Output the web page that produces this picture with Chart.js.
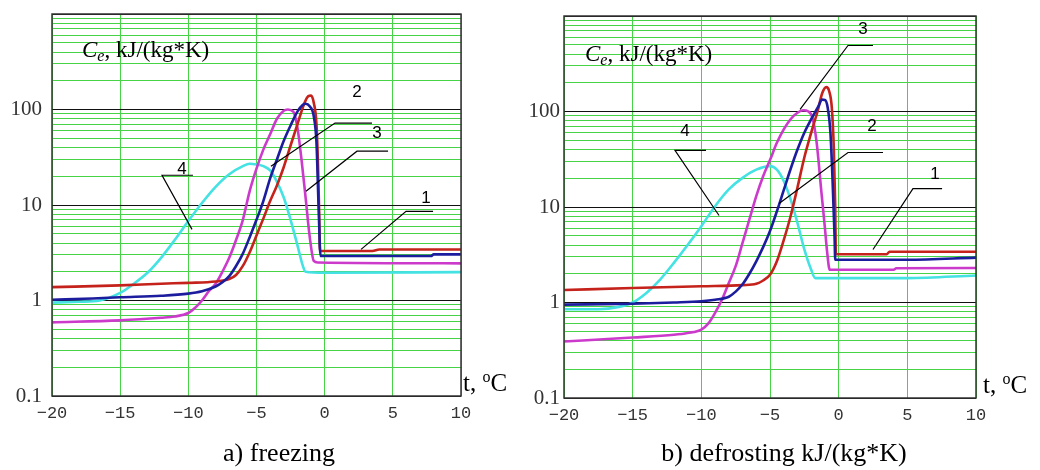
<!DOCTYPE html>
<html>
<head>
<meta charset="utf-8">
<script src="https://cdn.jsdelivr.net/npm/chart.js@4/dist/chart.umd.min.js"></script>
<style>
  body { margin: 0; background: #fff; width: 1040px; height: 470px; overflow: hidden; position: relative; }
  canvas { position: absolute; top: 0; }
  #freeze { left: 0; }
  #defrost { left: 520px; }
</style>
</head>
<body>
<canvas id="freeze" width="520" height="470"></canvas>
<canvas id="defrost" width="520" height="470"></canvas>
<script>
// temperature ticks (°C) and labelled values of Ce
const tempTicks = [-20, -15, -10, -5, 0, 5, 10];
const ceLabels = [0.1, 1, 10, 100];
const curveColors = { '1': '#c4221a', '2': '#1c1c9e', '3': '#cc3acc', '4': '#44e2e2' };

// a) freezing: [t, Ce]
const freeze1 = [[-20,1.38],[-15,1.44],[-12,1.5],[-10,1.53],[-8,1.58],[-7,1.68],[-6.5,1.85],[-6,2.3],[-5.5,3.2],[-5,4.8],[-4.5,7.2],[-4,11],[-3.5,16],[-3,25],[-2.5,42],[-2,70],[-1.5,115],[-1.2,138],[-1.0,140],[-0.8,118],[-0.6,70],[-0.5,30],[-0.4,8],[-0.35,3.3],[0,3.3],[3.5,3.3],[4,3.42],[10,3.42]];
const freeze2 = [[-20,1.02],[-17,1.05],[-15,1.08],[-12,1.12],[-10,1.18],[-9,1.25],[-8,1.4],[-7.5,1.55],[-7,1.8],[-6.5,2.3],[-6,3.1],[-5.5,4.6],[-5,7],[-4.5,11],[-4,19],[-3.5,30],[-3,47],[-2.5,68],[-2,95],[-1.6,112],[-1.4,115],[-1.1,108],[-0.8,85],[-0.6,45],[-0.45,10],[-0.3,2.92],[0,2.92],[7.8,2.92],[8,3.04],[10,3.04]];
const freeze3 = [[-20,0.59],[-15,0.62],[-12,0.66],[-11,0.68],[-10,0.74],[-9.5,0.84],[-9,1.0],[-8.5,1.25],[-8,1.5],[-7.5,2.0],[-7,2.8],[-6.5,4.3],[-6,7],[-5.5,14],[-5,24],[-4.5,38],[-4,55],[-3.5,80],[-3,97],[-2.7,100],[-2.3,95],[-2,65],[-1.7,30],[-1.4,12],[-1.1,4.7],[-0.8,2.6],[-0.5,2.5],[10,2.45]];
const freeze4 = [[-20,0.95],[-18,0.97],[-16.5,1.0],[-15,1.2],[-14,1.5],[-13,1.95],[-12,2.8],[-11,4.3],[-10,6.8],[-9,10.5],[-8,15.5],[-7,21],[-6,25.5],[-5.5,27],[-5,26.5],[-4.5,25.5],[-4,23],[-3.5,17.5],[-3,12],[-2.5,7],[-2,3.8],[-1.6,2.3],[-1.4,2.0],[0,1.95],[10,1.98]];

// b) defrosting: [t, Ce]
const defrost1 = [[-20,1.35],[-15,1.42],[-10,1.48],[-7,1.52],[-6,1.57],[-5.5,1.7],[-5,1.95],[-4.5,2.7],[-4,4.5],[-3.5,8],[-3,16],[-2.5,33],[-2,60],[-1.5,105],[-1.2,155],[-0.9,180],[-0.7,165],[-0.5,110],[-0.35,40],[-0.25,10],[-0.2,3.2],[3.5,3.2],[3.7,3.4],[10,3.4]];
const defrost2 = [[-20,0.95],[-15,0.97],[-12,1.0],[-10,1.03],[-9,1.07],[-8,1.15],[-7.5,1.3],[-7,1.55],[-6.5,2.0],[-6,2.7],[-5.5,3.8],[-5,5.6],[-4.5,9],[-4,15],[-3.5,25],[-3,40],[-2.5,60],[-2,83],[-1.5,112],[-1.2,133],[-1.0,132],[-0.8,110],[-0.6,60],[-0.45,20],[-0.3,5],[-0.25,2.8],[5,2.8],[10,2.95]];
const defrost3 = [[-20,0.39],[-15,0.43],[-12,0.46],[-11,0.48],[-10,0.52],[-9.5,0.6],[-9,0.78],[-8.5,1.07],[-8,1.6],[-7.5,2.4],[-7,4.2],[-6.5,7.4],[-6,13],[-5.5,21],[-5,31],[-4.5,47],[-4,65],[-3.5,83],[-3,97],[-2.6,103],[-2.2,100],[-1.9,85],[-1.6,47],[-1.25,14],[-1.0,6],[-0.85,3.5],[-0.65,2.2],[4,2.2],[4.2,2.28],[10,2.3]];
const defrost4 = [[-20,0.85],[-17.5,0.85],[-16,0.9],[-15,1.0],[-14,1.26],[-13,1.74],[-12,2.6],[-11,4.0],[-10,6.3],[-9,10.2],[-8,15.3],[-7,20.2],[-6,24.6],[-5,26.8],[-4.5,24.6],[-4,18.7],[-3.5,12],[-3,6.8],[-2.5,3.6],[-2,2.2],[-1.7,1.8],[5,1.8],[10,1.92]];

// curve number leaders in data coords: text, horizontal bar [t1, t2, Ce], tip
const freezeLeaders = [
  { n: '4', text: [-10.46, 23.7], bar: [-11.93, -9.66, 20.5], tip: [-9.73, 5.56] },
  { n: '2', text: [2.37, 152], bar: [0.76, 3.47, 72], tip: [-3.94, 25.5] },
  { n: '3', text: [3.84, 56.5], bar: [2.37, 4.65, 36.6], tip: [-1.37, 13.9] },
  { n: '1', text: [7.43, 11.8], bar: [5.97, 7.95, 8.59], tip: [2.67, 3.43] }
];
const defrostLeaders = [
  { n: '3', text: [1.77, 722], bar: [0.68, 2.50, 491], tip: [-2.81, 105] },
  { n: '2', text: [2.43, 69.7], bar: [0.68, 3.23, 37.2], tip: [-4.34, 10.9] },
  { n: '4', text: [-11.19, 61.8], bar: [-11.92, -9.66, 39.1], tip: [-8.71, 8.15] },
  { n: '1', text: [7.02, 21.9], bar: [5.41, 7.53, 15.6], tip: [2.50, 3.59] }
];

const green = 'rgb(70,212,70)';
const isDecade = v => Math.abs(Math.log10(v) - Math.round(Math.log10(v))) < 1e-6;

// log grid: 1..9 in each decade from 0.1 to 1000
const ceGrid = [];
for (let e = -1; e <= 2; e++) {
  for (let m = 1; m <= 9; m++) ceGrid.push(Number((m * Math.pow(10, e)).toPrecision(3)));
}
ceGrid.push(1000);

const decorations = {
  id: 'decorations',
  afterDraw(chart, args, o) {
    const { ctx, chartArea: a } = chart;
    const x = chart.scales.x, y = chart.scales.y;
    const px = t => x.getPixelForValue(t);
    const py = v => y.getPixelForValue(v);
    ctx.save();
    ctx.strokeStyle = '#333';
    ctx.lineWidth = 1.5;
    ctx.strokeRect(a.left, a.top, a.right - a.left, a.bottom - a.top);

    // leaders
    ctx.strokeStyle = '#000';
    ctx.lineWidth = 1.2;
    ctx.fillStyle = '#000';
    ctx.font = '17px "Liberation Sans"';
    ctx.textAlign = 'center';
    ctx.textBaseline = 'middle';
    o.leaders.forEach(l => {
      ctx.beginPath();
      ctx.moveTo(px(l.bar[1]), py(l.bar[2]));
      ctx.lineTo(px(l.bar[0]), py(l.bar[2]));
      ctx.lineTo(px(l.tip[0]), py(l.tip[1]));
      ctx.stroke();
      ctx.fillText(l.n, px(l.text[0]), py(l.text[1]));
    });

    // Ce, kJ/(kg*K)
    ctx.textAlign = 'left';
    ctx.textBaseline = 'alphabetic';
    let cx = a.left + o.ceAt[0], cy = a.top + o.ceAt[1];
    ctx.font = 'italic 23px "Liberation Serif"';
    ctx.fillText('C', cx, cy);
    cx += ctx.measureText('C').width;
    ctx.font = 'italic 16px "Liberation Serif"';
    ctx.fillText('e', cx, cy + 4);
    cx += ctx.measureText('e').width;
    ctx.font = '23px "Liberation Serif"';
    ctx.fillText(', kJ/(kg*K)', cx, cy);

    // t, °C
    let tx = a.right + o.tAt[0], ty = a.bottom + o.tAt[1];
    ctx.font = '25px "Liberation Serif"';
    ctx.fillText('t, ', tx, ty);
    tx += ctx.measureText('t, ').width;
    ctx.font = '16px "Liberation Serif"';
    ctx.fillText('o', tx, ty - 9);
    tx += ctx.measureText('o').width;
    ctx.font = '25px "Liberation Serif"';
    ctx.fillText('C', tx, ty);

    // caption
    ctx.textAlign = 'center';
    ctx.font = '26px "Liberation Serif"';
    ctx.fillText(o.caption, o.capAt[0], o.capAt[1]);
    ctx.restore();
  }
};

function makePanel(id, curves, leaders, lay) {
  const order = ['2', '1', '3', '4'];
  new Chart(document.getElementById(id), {
    type: 'line',
    data: {
      datasets: order.map(k => ({
        label: k,
        data: curves[k].map(p => ({ x: p[0], y: p[1] })),
        borderColor: curveColors[k],
        borderWidth: 2.6,
        pointRadius: 0,
        cubicInterpolationMode: 'monotone',
        borderJoinStyle: 'round',
        fill: false
      }))
    },
    options: {
      responsive: false,
      animation: false,
      layout: { padding: { top: lay.top, right: lay.right, left: 0, bottom: 0 } },
      plugins: {
        legend: { display: false },
        tooltip: { enabled: false },
        decorations: { leaders: leaders, caption: lay.caption, ceAt: lay.ceAt, tAt: lay.tAt, capAt: lay.capAt }
      },
      scales: {
        x: {
          type: 'linear',
          min: -20, max: 10,
          afterBuildTicks: s => { s.ticks = tempTicks.map(v => ({ value: v })); },
          afterFit: s => { s.height = lay.xh; s.paddingLeft = 0; s.paddingRight = 0; },
          grid: { color: green, lineWidth: 1, drawTicks: false },
          border: { display: false },
          ticks: {
            padding: 7,
            color: '#333',
            font: { family: 'Liberation Mono', size: 17 },
            callback: v => String(v).replace('-', '\u2212')
          }
        },
        y: {
          type: 'logarithmic',
          min: 0.1, max: 1000,
          afterBuildTicks: s => { s.ticks = ceGrid.map(v => ({ value: v })); },
          afterFit: s => { s.width = lay.yw; s.paddingTop = 0; s.paddingBottom = 0; },
          grid: {
            drawTicks: false,
            lineWidth: 1,
            color: c => (c.tick && isDecade(c.tick.value)) ? '#111' : green
          },
          border: { display: false },
          ticks: {
            autoSkip: false,
            padding: lay.ypad,
            color: '#333',
            font: { family: 'Liberation Serif', size: 21 },
            callback: v => ceLabels.includes(v) ? String(v) : ''
          }
        }
      }
    },
    plugins: [decorations]
  });
}

makePanel('freeze', { '1': freeze1, '2': freeze2, '3': freeze3, '4': freeze4 }, freezeLeaders,
  { top: 14, right: 59, xh: 74, yw: 52, ypad: 10, caption: 'a) freezing', ceAt: [30, 43], tAt: [2, -5], capAt: [279, 461] });
makePanel('defrost', { '1': defrost1, '2': defrost2, '3': defrost3, '4': defrost4 }, defrostLeaders,
  { top: 16, right: 64, xh: 72, yw: 44, ypad: 4, caption: 'b) defrosting kJ/(kg*K)', ceAt: [21, 45], tAt: [7, -5], capAt: [264, 461] });
</script>
</body>
</html>
